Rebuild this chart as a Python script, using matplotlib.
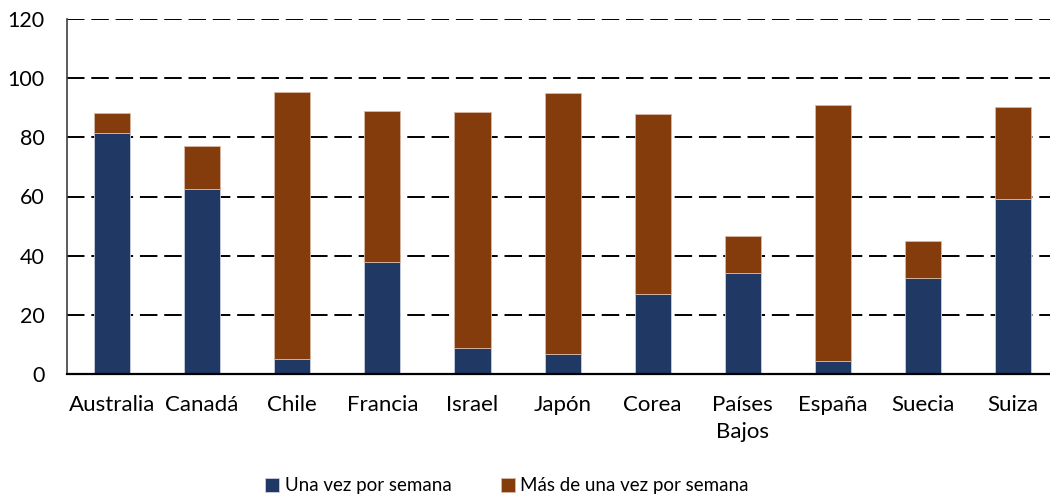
import numpy as np
import matplotlib
matplotlib.use("Agg")
import matplotlib.pyplot as plt

plt.rcParams['font.family'] = ['Lato', 'DejaVu Sans']

# datos
paises = ["Australia", "Canadá", "Chile", "Francia", "Israel", "Japón",
          "Corea", "Países\nBajos", "España", "Suecia", "Suiza"]
una_vez = [81.6, 62.4, 5.1, 38.0, 8.8, 6.8, 27.0, 34.3, 4.3, 32.5, 59.2]
total = [88.1, 77.2, 95.4, 89.0, 88.7, 94.9, 87.8, 46.8, 91.0, 45.0, 90.4]
mas_de_una = [t - u for t, u in zip(total, una_vez)]

azul = "#203864"
cafe = "#843C0C"

fig = plt.figure(figsize=(10.5, 5), dpi=100)
ax = fig.add_axes([0.0638, 0.252, 0.944, 0.710])

x = np.arange(len(paises))
ax.bar(x, una_vez, width=0.4, color=azul, edgecolor="#c9d0e0", linewidth=0.6,
       label="Una vez por semana", zorder=3)
ax.bar(x, mas_de_una, width=0.4, bottom=una_vez, color=cafe, edgecolor="#d9b8a3",
       linewidth=0.6, label="Más de una vez por semana", zorder=3)

ax.set_xlim(-0.5, len(paises) - 0.5)
ax.set_ylim(0, 120)
ax.set_yticks(np.arange(0, 121, 20))
ax.yaxis.grid(True, color="black", linewidth=1.4, linestyle=(0, (9, 3.5)), zorder=1)
ax.set_axisbelow(True)

ax.set_xticks(x)
ax.set_xticklabels(paises, fontsize=16, linespacing=1.45, va="top")
ax.tick_params(axis="x", length=0, pad=15)
ax.tick_params(axis="y", length=0, pad=16, labelsize=15.5)

for s in ["top", "right"]:
    ax.spines[s].set_visible(False)
ax.spines["left"].set_color("#404040")
ax.spines["left"].set_linewidth(1.2)
ax.spines["bottom"].set_color("black")
ax.spines["bottom"].set_linewidth(1.6)
ax.spines["bottom"].set_zorder(4)

fig.legend(loc="center", bbox_to_anchor=(507 / 1050, 1 - 486 / 500), ncol=2,
           frameon=False, fontsize=13.5, handlelength=0.75, handleheight=0.75,
           handletextpad=0.3, columnspacing=2.6)

fig.savefig("out.png", dpi=100)
